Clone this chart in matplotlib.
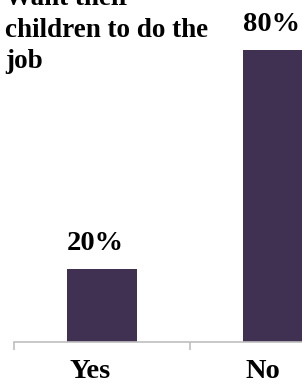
import matplotlib
matplotlib.use("Agg")
import matplotlib.pyplot as plt

categories = ["Yes", "No"]
values = [20, 80]
value_labels = ["20%", "80%"]
title_lines = ["Want their", "children to do the", "job"]

W, H = 302, 385
fig = plt.figure(figsize=(W / 100, H / 100), dpi=100)
ax = fig.add_axes([14 / W, 43 / H, (W - 14) / W, 342 / H])
bar_color = "#403152"
width = 0.4
xs = list(range(len(categories)))
ax.bar(xs, values, width=width, color=bar_color, zorder=2)
ax.set_xlim(-0.5, 1.136)
ax.set_ylim(0, 93.7)

font = dict(family="Liberation Serif", fontweight="bold", fontsize=20.5)
for x, v, lab in zip(xs, values, value_labels):
    ax.annotate(lab, (x - width / 2, v), xytext=(0, 14), textcoords="offset points",
                ha="left", va="baseline", **font)
for x, c in zip(xs, categories):
    ax.annotate(c, (x - width / 2, 0), xytext=(2, -26), textcoords="offset points",
                ha="left", va="baseline", **font)

for s in ["top", "right", "left"]:
    ax.spines[s].set_visible(False)
ax.spines["bottom"].set_color("#bfbfbf")
ax.spines["bottom"].set_linewidth(1.2)
ax.set_yticks([])
ax.set_xticks([-0.5, 0.5])
ax.set_xticklabels([])
ax.tick_params(axis="x", length=6, color="#bfbfbf", width=1.2)

title_font = dict(font, fontsize=19.5)
for line, base in zip(title_lines, [5, 37, 68]):
    fig.text(5 / W, 1 - base / H, line, ha="left", va="baseline", **title_font)

fig.savefig("out.png", dpi=100)
